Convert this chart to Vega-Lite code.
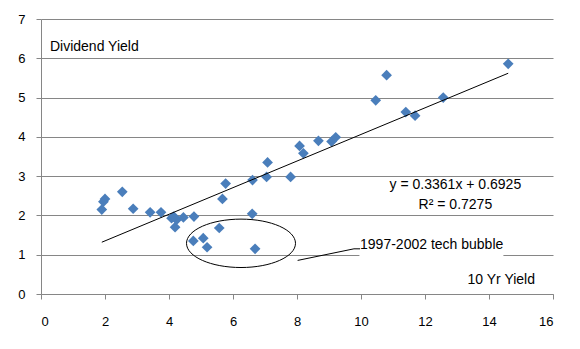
{
  "$schema": "https://vega.github.io/schema/vega-lite/v6.json",
  "width": 512,
  "height": 275,
  "autosize": {"type": "none"},
  "padding": {"left": 41, "top": 19, "right": 27, "bottom": 55},
  "background": "white",
  "config": {
    "view": {"stroke": null},
    "font": "Liberation Sans",
    "axis": {
      "labelFont": "Liberation Sans",
      "labelFontSize": 13,
      "labelColor": "#000000",
      "domainColor": "#868686",
      "tickColor": "#868686",
      "gridColor": "#868686",
      "gridOpacity": 1,
      "tickSize": 5,
      "labelOverlap": false,
      "title": null
    }
  },
  "encoding": {
    "x": {"field": "x", "type": "quantitative", "scale": {"domain": [0, 16], "nice": false, "zero": false},
          "axis": {"values": [0, 2, 4, 6, 8, 10, 12, 14, 16], "grid": false, "labelPadding": 16}},
    "y": {"field": "y", "type": "quantitative", "scale": {"domain": [0, 7], "nice": false, "zero": false},
          "axis": {"values": [0, 1, 2, 3, 4, 5, 6, 7], "grid": true, "labelPadding": 11}}
  },
  "layer": [
    {
      "data": {"values": [
        {"x": 1.9, "y": 2.15}, {"x": 1.95, "y": 2.35}, {"x": 2.0, "y": 2.42},
        {"x": 2.54, "y": 2.6}, {"x": 2.88, "y": 2.17}, {"x": 3.41, "y": 2.08},
        {"x": 3.75, "y": 2.08}, {"x": 4.08, "y": 1.93}, {"x": 4.19, "y": 1.7},
        {"x": 4.24, "y": 1.89}, {"x": 4.15, "y": 1.97}, {"x": 4.45, "y": 1.95},
        {"x": 4.78, "y": 1.97}, {"x": 4.76, "y": 1.35}, {"x": 5.07, "y": 1.42},
        {"x": 5.19, "y": 1.19}, {"x": 5.57, "y": 1.68}, {"x": 5.67, "y": 2.42},
        {"x": 5.77, "y": 2.81}, {"x": 6.6, "y": 2.04}, {"x": 6.69, "y": 1.15},
        {"x": 6.61, "y": 2.9}, {"x": 7.05, "y": 2.98}, {"x": 7.08, "y": 3.35},
        {"x": 7.8, "y": 2.98}, {"x": 8.08, "y": 3.77}, {"x": 8.2, "y": 3.58},
        {"x": 8.67, "y": 3.9}, {"x": 9.08, "y": 3.88}, {"x": 9.21, "y": 3.99},
        {"x": 10.46, "y": 4.93}, {"x": 10.8, "y": 5.57}, {"x": 11.4, "y": 4.63},
        {"x": 11.69, "y": 4.54}, {"x": 12.57, "y": 5.0}, {"x": 14.6, "y": 5.86}
      ]},
      "layer": [
        {
          "mark": {"type": "point", "shape": "diamond", "filled": true, "size": 115, "color": "#4A7EBB", "opacity": 1, "strokeWidth": 0}
        },
        {
          "transform": [{"regression": "y", "on": "x"}],
          "mark": {"type": "line", "color": "#000000", "strokeWidth": 1}
        }
      ]
    },
    {
      "data": {"values": [{"x": 6.25, "y": 1.29}]},
      "mark": {"type": "point", "shape": "M -1 0 A 1 0.444 0 1 0 1 0 A 1 0.444 0 1 0 -1 0 Z", "size": 11881, "filled": false, "stroke": "#000000", "strokeWidth": 1, "opacity": 1}
    },
    {
      "data": {"values": [{"x": 9.95, "x2": 14.45, "y": 0.93, "y2": 1.5}]},
      "mark": {"type": "rect", "color": "#ffffff", "opacity": 1},
      "encoding": {
        "x2": {"field": "x2"},
        "y2": {"field": "y2"}
      }
    },
    {
      "data": {"values": [
        {"x": 8.02, "y": 0.855, "x2": 9.78, "y2": 1.15},
        {"x": 9.78, "y": 1.15, "x2": 9.97, "y2": 1.15}
      ]},
      "mark": {"type": "rule", "color": "#000000", "strokeWidth": 1},
      "encoding": {
        "x2": {"field": "x2"},
        "y2": {"field": "y2"}
      }
    },
    {
      "data": {"values": [
        {"label": "Dividend Yield", "x": 0.28, "y": 6.3},
        {"label": "10 Yr Yield", "x": 13.33, "y": 0.36},
        {"label": "1997-2002 tech bubble", "x": 9.97, "y": 1.25}
      ]},
      "mark": {"type": "text", "align": "left", "baseline": "middle", "fontSize": 14, "color": "#000000"},
      "encoding": {
        "text": {"field": "label"}
      }
    },
    {
      "data": {"values": [
        {"label": "y = 0.3361x + 0.6925", "x": 12.95, "y": 2.78},
        {"label": "R² = 0.7275", "x": 12.95, "y": 2.27}
      ]},
      "mark": {"type": "text", "align": "center", "baseline": "middle", "fontSize": 14, "color": "#000000"},
      "encoding": {
        "text": {"field": "label"}
      }
    }
  ]
}
